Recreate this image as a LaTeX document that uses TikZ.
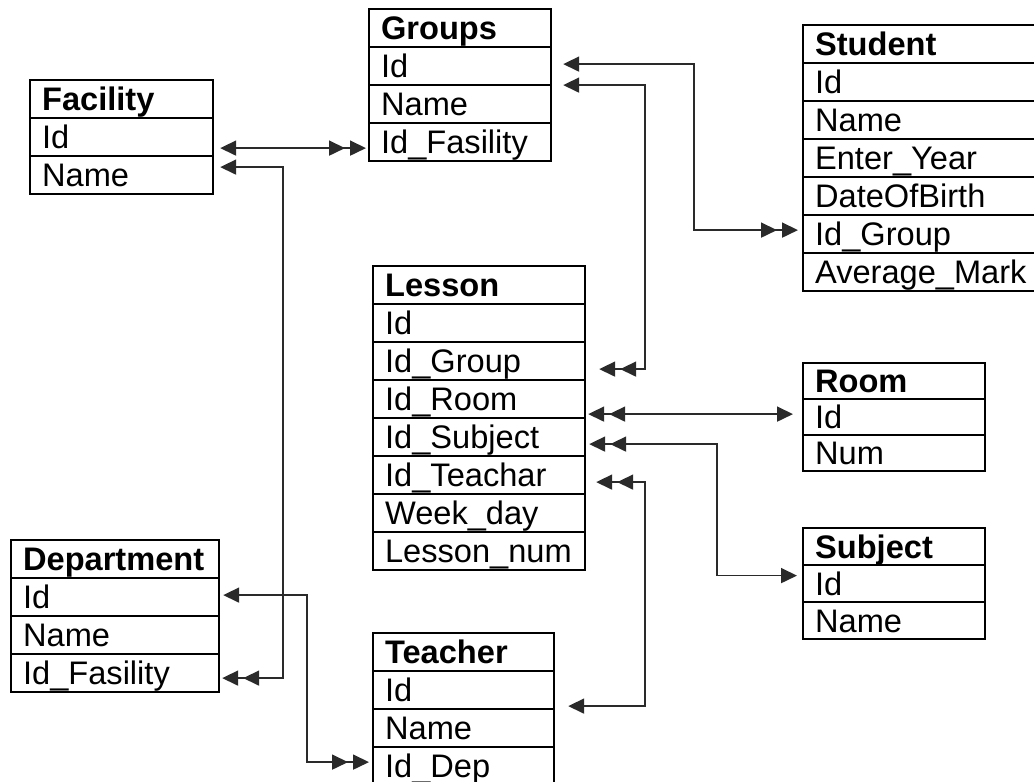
\documentclass[tikz,border=0pt]{standalone}
\usepackage{fontspec}
\setmainfont{Liberation Sans}
\usetikzlibrary{arrows.meta,calc}
\definecolor{linegray}{HTML}{2A2A2A}
\tikzset{
  one/.tip={Triangle[length=16pt,width=15pt]},
  two/.tip={Triangle[length=16pt,width=15pt,sep=5pt]Triangle[length=16pt,width=15pt]},
}
\begin{document}
\begin{tikzpicture}[x=1pt,y=-1pt,
  cell/.style={draw=black,line width=2.2pt,rectangle,inner xsep=12pt,inner ysep=0pt,
    minimum height=38pt,text height=23.5pt,text depth=0pt,align=left,anchor=north west,
    font=\fontsize{32.6}{38}\selectfont},
  head/.style={cell,font=\fontsize{32.6}{38}\selectfont\bfseries},
  conn/.style={line width=1.7pt,draw=linegray,fill=none}]
\useasboundingbox (0,0) rectangle (1034,782);
\fill[white] (0,0) rectangle (1034,782);

% Facility
\node[head,text width=159pt] (fac-h) at (29,79) {Facility};
\node[cell,text width=159pt] (fac-id) at (29,117) {Id};
\node[cell,text width=159pt] (fac-nam) at (29,155) {Name};

% Groups
\node[head,text width=158pt] (grp-h) at (368,8) {Groups};
\node[cell,text width=158pt] (grp-id) at (368,46) {Id};
\node[cell,text width=158pt] (grp-nam) at (368,84) {Name};
\node[cell,text width=158pt] (grp-fas) at (368,122) {Id\_Fasility};

% Student
\node[head,text width=226pt] (stu-h) at (802,24) {Student};
\node[cell,text width=226pt] (stu-id) at (802,62) {Id};
\node[cell,text width=226pt] (stu-nam) at (802,100) {Name};
\node[cell,text width=226pt] (stu-ent) at (802,138) {Enter\_Year};
\node[cell,text width=226pt] (stu-dob) at (802,176) {DateOfBirth};
\node[cell,text width=226pt] (stu-grp) at (802,214) {Id\_Group};
\node[cell,text width=226pt] (stu-avg) at (802,252) {Average\_Mark};

% Lesson
\node[head,text width=188pt] (les-h) at (372,265) {Lesson};
\node[cell,text width=188pt] (les-id) at (372,303) {Id};
\node[cell,text width=188pt] (les-grp) at (372,341) {Id\_Group};
\node[cell,text width=188pt] (les-rom) at (372,379) {Id\_Room};
\node[cell,text width=188pt] (les-sub) at (372,417) {Id\_Subject};
\node[cell,text width=188pt] (les-tea) at (372,455) {Id\_Teachar};
\node[cell,text width=188pt] (les-wd) at (372,493) {Week\_day};
\node[cell,text width=188pt] (les-num) at (372,531) {Lesson\_num};

% Room
\node[head,text width=158pt,minimum height=36pt] (rom-h) at (802,362) {Room};
\node[cell,text width=158pt,minimum height=36pt] (rom-id) at (802,398) {Id};
\node[cell,text width=158pt,minimum height=36pt] (rom-num) at (802,434) {Num};

% Subject
\node[head,text width=158pt,minimum height=37pt] (sub-h) at (802,527) {Subject};
\node[cell,text width=158pt,minimum height=37pt] (sub-id) at (802,564) {Id};
\node[cell,text width=158pt,minimum height=37pt] (sub-nam) at (802,601) {Name};

% Department
\node[head,text width=184pt] (dep-h) at (10,539) {Department};
\node[cell,text width=184pt] (dep-id) at (10,577) {Id};
\node[cell,text width=184pt] (dep-nam) at (10,615) {Name};
\node[cell,text width=184pt] (dep-fas) at (10,653) {Id\_Fasility};

% Teacher
\node[head,text width=157pt] (tea-h) at (372,632) {Teacher};
\node[cell,text width=157pt] (tea-id) at (372,670) {Id};
\node[cell,text width=157pt] (tea-nam) at (372,708) {Name};
\node[cell,text width=157pt] (tea-dep) at (372,746) {Id\_Dep};

% Connectors
\draw[conn,{one}-{two}] ($(fac-id.east)+(6,11)$) -- ($(grp-fas.west)+(-2,6)$);
\draw[conn,{one}-{two}] ($(fac-nam.east)+(6,-8)$) -| ($(dep-fas.east)+(63,5)$) -- ($(dep-fas.east)+(2,5)$);
\draw[conn,{one}-{two}] ($(grp-id.east)+(11,-2)$) -| ($(stu-grp.west)+(-108,-4)$) -- ($(stu-grp.west)+(-4,-4)$);
\draw[conn,{one}-{two}] ($(grp-nam.east)+(11,-19)$) -| ($(les-grp.east)+(59,8)$) -- ($(les-grp.east)+(13,8)$);
\draw[conn,{two}-{one}] ($(les-rom.east)+(2,15)$) -- ($(rom-id.west)+(-9,-3)$);
\draw[conn,{two}-{one}] ($(les-sub.east)+(3,7)$) -| ($(sub-id.west)+(-85,-8)$) -- ($(sub-id.west)+(-5,-8)$);
\draw[conn,{two}-{one}] ($(les-tea.east)+(10,7)$) -| ($(tea-id.east)+(90,16)$) -- ($(tea-id.east)+(13,16)$);
\draw[conn,{one}-{two}] ($(dep-id.east)+(3,-2)$) -| ($(tea-dep.west)+(-65,-4)$) -- ($(tea-dep.west)+(-3,-4)$);
\end{tikzpicture}
\end{document}
